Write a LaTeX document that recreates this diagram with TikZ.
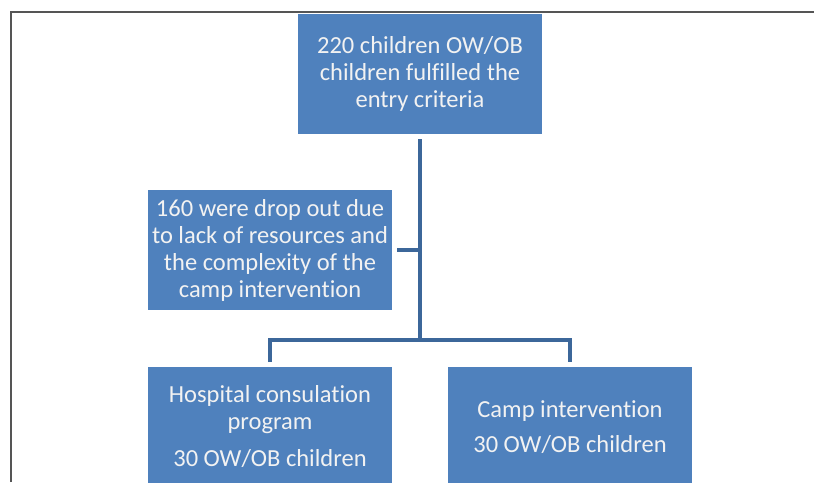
\documentclass[tikz,border=0pt]{standalone}
\usepackage{fontspec}
\setmainfont[Ligatures=NoCommon]{Carlito}
\usepackage{tikz}
\usetikzlibrary{positioning}

\definecolor{boxblue}{HTML}{4F81BD}
\definecolor{linkblue}{HTML}{3C679A}
\definecolor{framegray}{HTML}{555555}

\begin{document}
\begin{tikzpicture}[x=1pt, y=-1pt,
		every node/.style={font=\fontsize{24.5}{27}\selectfont},
		stepbox/.style={fill=boxblue, text=white!95!black, align=center,
			minimum width=244pt, minimum height=120pt, inner sep=0pt, outer sep=5pt},
		link/.style={draw=linkblue, line width=4pt}]
			\useasboundingbox (0,0) rectangle (814,482);
			
			% Rahmen
			\draw[framegray, line width=1.5pt] (11,482) -- (11,12) -- (814,12);
			
			% Kasten oben (Eingangskriterien)
			\node[stepbox] (entry) at (420,74) {220 children OW/OB\\children fulfilled the\\entry criteria};
			
			% Kasten links (Abbrecher)
			\node[stepbox] (dropout) at (270,250) {160 were drop out due\\to lack of resources and\\the complexity of the\\camp intervention};
			
			% Kaesten unten (Gruppen)
			\node[stepbox] (hospital) at (270,427) {Hospital consulation\\program\\[10pt]30 OW/OB children};
			\node[stepbox] (camp) at (570,427) {Camp intervention\\[8pt]30 OW/OB children};
			
			% Verbindungslinien
			\coordinate (split) at (420,340);
			\draw[link] (entry.south) -- (split);
			\draw[link] (dropout.east) -- (dropout.east -| split);
			\draw[link] (hospital.north) |- (split) -| (camp.north);
		\end{tikzpicture}
\end{document}
